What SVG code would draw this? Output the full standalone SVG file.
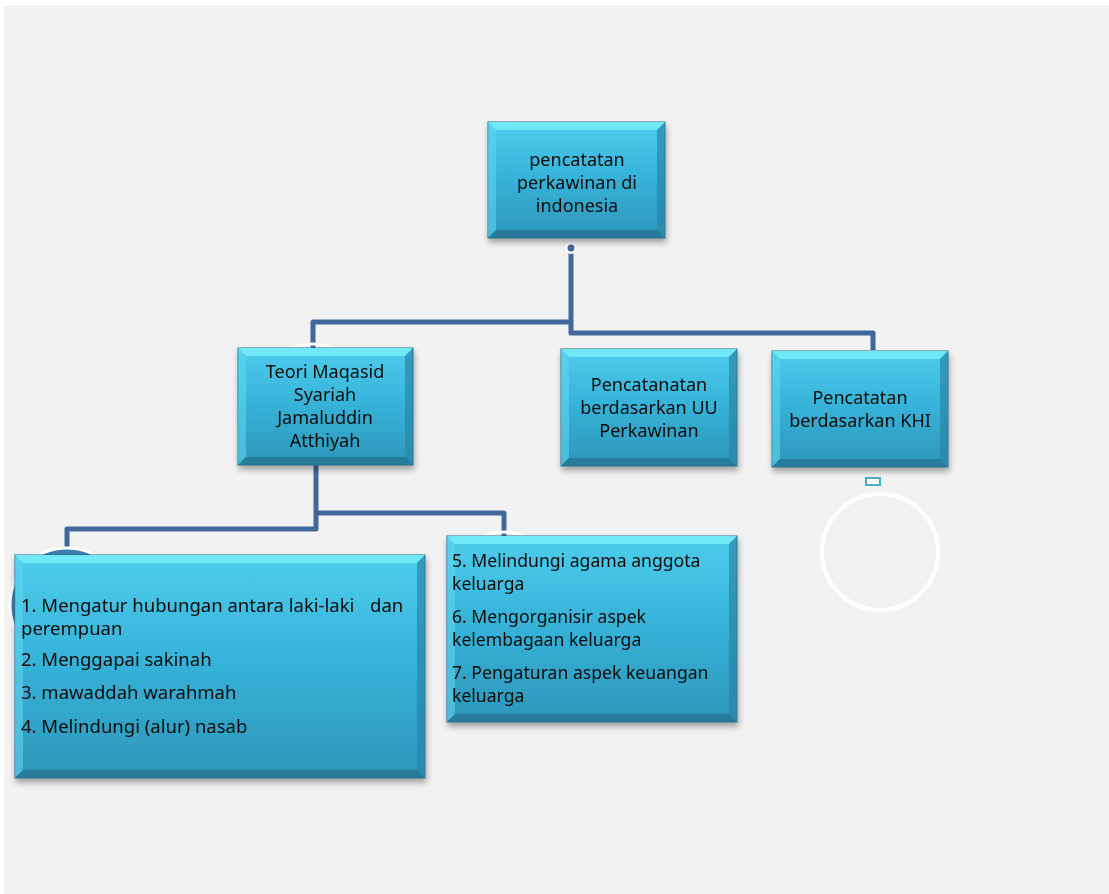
<svg xmlns="http://www.w3.org/2000/svg" width="1109" height="894" viewBox="0 0 1109 894">
<defs>
<linearGradient id="fillG" x1="0" y1="0" x2="0" y2="1">
<stop offset="0" stop-color="#4ECDEC"/>
<stop offset="0.45" stop-color="#37B4DA"/>
<stop offset="1" stop-color="#2D96B9"/>
</linearGradient>
<filter id="sh" x="-10%" y="-10%" width="120%" height="130%">
<feGaussianBlur in="SourceAlpha" stdDeviation="3"/>
<feOffset dx="1" dy="4" result="b"/>
<feComponentTransfer><feFuncA type="linear" slope="0.35"/></feComponentTransfer>
<feMerge><feMergeNode/><feMergeNode in="SourceGraphic"/></feMerge>
</filter>
</defs>
<style>
.box{fill:url(#fillG);stroke:#2B6F86;stroke-width:1}
.bt{fill:#78EEFA;opacity:0.85}
.bl{fill:#5FD6EE;opacity:0.6}
.bb{fill:#246F8C;opacity:0.7}
.br{fill:#2A86A8;opacity:0.7}
.t{font-family:"Noto Sans","Open Sans",sans-serif;font-size:18px;fill:#0A0A0A}
.c{text-anchor:middle}
.l{font-size:18.5px}
.m{font-size:17.6px}
.con{fill:none;stroke:#41689D;stroke-width:5;stroke-linejoin:round}
.arc{fill:none;stroke:#FFFFFF;stroke-width:3}
</style>
<rect x="0" y="0" width="1109" height="894" fill="#FFFFFF"/>
<rect x="4" y="5" width="1105" height="889" fill="#F2F2F2"/>

<g id="connectors">
<path class="con" d="M571,252 V333 H873 V350"/>
<path class="con" d="M571,322 H313 V350"/>
<path class="con" d="M316,465 V529 H67 V556"/>
<path class="con" d="M316,513 H504 V536"/>
<circle cx="571" cy="248" r="6" fill="#FFFFFF"/>
<circle cx="571" cy="248" r="3.5" fill="#41689D"/>
</g>

<g id="decor">
<path class="arc" d="M289,350 Q313,338 337,350"/>
<path class="arc" d="M480,538 Q504,526 528,538"/>
<circle cx="67" cy="605" r="57" fill="#3C7DB3" stroke="#FFFFFF" stroke-width="3"/>
</g>

<g id="node-top" filter="url(#sh)">
<rect class="box" x="488" y="122" width="177" height="116"/>
<polygon class="bt" points="488,122 665,122 657,130 496,130"/>
<polygon class="bl" points="488,122 496,130 496,230 488,238"/>
<polygon class="bb" points="488,238 496,230 657,230 665,238"/>
<polygon class="br" points="665,122 657,130 657,230 665,238"/>
<text class="t c" x="577" y="166">pencatatan</text>
<text class="t c" x="577" y="189">perkawinan di</text>
<text class="t c" x="577" y="212">indonesia</text>
</g>

<g id="node-teori" filter="url(#sh)">
<rect class="box" x="238" y="348" width="175" height="117"/>
<polygon class="bt" points="238,348 413,348 405,356 246,356"/>
<polygon class="bl" points="238,348 246,356 246,457 238,465"/>
<polygon class="bb" points="238,465 246,457 405,457 413,465"/>
<polygon class="br" points="413,348 405,356 405,457 413,465"/>
<text class="t c" x="325" y="378">Teori Maqasid</text>
<text class="t c" x="325" y="401">Syariah</text>
<text class="t c" x="325" y="424">Jamaluddin</text>
<text class="t c" x="325" y="447">Atthiyah</text>
</g>

<g id="node-uu" filter="url(#sh)">
<rect class="box" x="561" y="349" width="176" height="117"/>
<polygon class="bt" points="561,349 737,349 729,357 569,357"/>
<polygon class="bl" points="561,349 569,357 569,458 561,466"/>
<polygon class="bb" points="561,466 569,458 729,458 737,466"/>
<polygon class="br" points="737,349 729,357 729,458 737,466"/>
<text class="t c" x="649" y="391">Pencatanatan</text>
<text class="t c" x="649" y="414">berdasarkan UU</text>
<text class="t c" x="649" y="437">Perkawinan</text>
</g>

<g id="node-khi" filter="url(#sh)">
<rect class="box" x="772" y="351" width="176" height="116"/>
<polygon class="bt" points="772,351 948,351 940,359 780,359"/>
<polygon class="bl" points="772,351 780,359 780,459 772,467"/>
<polygon class="bb" points="772,467 780,459 940,459 948,467"/>
<polygon class="br" points="948,351 940,359 940,459 948,467"/>
<text class="t c" x="860" y="404">Pencatatan</text>
<text class="t c" x="860" y="427">berdasarkan KHI</text>
</g>

<g id="khi-empty">
<rect x="866" y="478" width="14" height="7" fill="#FFFFFF" stroke="#4BACC6" stroke-width="2"/>
<circle cx="880" cy="552" r="58" fill="none" stroke="#FFFFFF" stroke-width="4"/>
</g>

<g id="node-list1" filter="url(#sh)">
<rect class="box" x="15" y="555" width="410" height="223"/>
<polygon class="bt" points="15,555 425,555 417,563 23,563"/>
<polygon class="bl" points="15,555 23,563 23,770 15,778"/>
<polygon class="bb" points="15,778 23,770 417,770 425,778"/>
<polygon class="br" points="425,555 417,563 417,770 425,778"/>
<text class="t l" x="21" y="612">1. Mengatur hubungan antara laki-laki<tspan x="370">dan</tspan></text>
<text class="t l" x="21" y="635">perempuan</text>
<text class="t l" x="21" y="666">2. Menggapai sakinah</text>
<text class="t l" x="21" y="699">3. mawaddah warahmah</text>
<text class="t l" x="21" y="733">4. Melindungi (alur) nasab</text>
</g>

<g id="node-list2" filter="url(#sh)">
<rect class="box" x="447" y="536" width="290" height="186"/>
<polygon class="bt" points="447,536 737,536 729,544 455,544"/>
<polygon class="bl" points="447,536 455,544 455,714 447,722"/>
<polygon class="bb" points="447,722 455,714 729,714 737,722"/>
<polygon class="br" points="737,536 729,544 729,714 737,722"/>
<text class="t m" x="452" y="567">5. Melindungi agama anggota</text>
<text class="t m" x="452" y="590">keluarga</text>
<text class="t m" x="452" y="623">6. Mengorganisir aspek</text>
<text class="t m" x="452" y="646">kelembagaan keluarga</text>
<text class="t m" x="452" y="679">7. Pengaturan aspek keuangan</text>
<text class="t m" x="452" y="702">keluarga</text>
</g>
</svg>
